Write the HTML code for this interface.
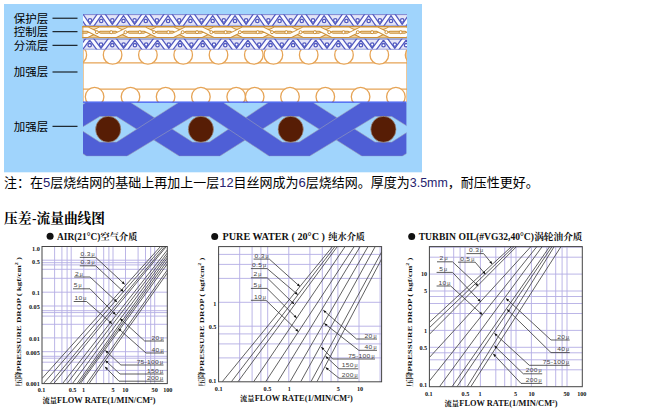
<!DOCTYPE html>
<html><head><meta charset="utf-8"><title>chart</title>
<style>html,body{margin:0;padding:0;background:#fff}svg{display:block}text{font-family:"Liberation Serif","Noto Serif CJK SC",serif}text.sa{font-family:"Liberation Sans","Noto Sans CJK SC",sans-serif}</style>
</head><body>
<svg width="664" height="415" viewBox="0 0 664 415">
<rect width="664" height="415" fill="#fff"/>
<rect x="4" y="4" width="418" height="168.3" fill="#a0d4fc"/>
<clipPath id="dc"><rect x="83" y="10" width="324" height="150"/></clipPath>
<clipPath id="dc2"><rect x="82.3" y="10" width="324.7" height="150"/></clipPath>
<g clip-path="url(#dc)">
<rect x="83" y="49.6" width="324" height="52.8" fill="#fff"/>
<path d="M83 62.8H407M83 89.2H407" stroke="#e6a456" stroke-width="1.2" fill="none"/>
<circle cx="77.3" cy="54.9" r="9.3" fill="#fff" stroke="#e6a456" stroke-width="1.3"/>
<circle cx="112.6" cy="54.9" r="9.3" fill="#fff" stroke="#e6a456" stroke-width="1.3"/>
<circle cx="147.9" cy="54.9" r="9.3" fill="#fff" stroke="#e6a456" stroke-width="1.3"/>
<circle cx="183.2" cy="54.9" r="9.3" fill="#fff" stroke="#e6a456" stroke-width="1.3"/>
<circle cx="218.5" cy="54.9" r="9.3" fill="#fff" stroke="#e6a456" stroke-width="1.3"/>
<circle cx="253.8" cy="54.9" r="9.3" fill="#fff" stroke="#e6a456" stroke-width="1.3"/>
<circle cx="273.4" cy="54.9" r="9.3" fill="#fff" stroke="#e6a456" stroke-width="1.3"/>
<circle cx="308.7" cy="54.9" r="9.3" fill="#fff" stroke="#e6a456" stroke-width="1.3"/>
<circle cx="344" cy="54.9" r="9.3" fill="#fff" stroke="#e6a456" stroke-width="1.3"/>
<circle cx="379.3" cy="54.9" r="9.3" fill="#fff" stroke="#e6a456" stroke-width="1.3"/>
<circle cx="414.6" cy="54.9" r="9.3" fill="#fff" stroke="#e6a456" stroke-width="1.3"/>
<circle cx="94.6" cy="96.7" r="9.3" fill="#fff" stroke="#e6a456" stroke-width="1.3"/>
<circle cx="130.5" cy="96.7" r="9.3" fill="#fff" stroke="#e6a456" stroke-width="1.3"/>
<circle cx="165.6" cy="96.7" r="9.3" fill="#fff" stroke="#e6a456" stroke-width="1.3"/>
<circle cx="200.9" cy="96.7" r="9.3" fill="#fff" stroke="#e6a456" stroke-width="1.3"/>
<circle cx="236.2" cy="96.7" r="9.3" fill="#fff" stroke="#e6a456" stroke-width="1.3"/>
<circle cx="254.7" cy="96.7" r="9.3" fill="#fff" stroke="#e6a456" stroke-width="1.3"/>
<circle cx="290" cy="96.7" r="9.3" fill="#fff" stroke="#e6a456" stroke-width="1.3"/>
<circle cx="325.3" cy="96.7" r="9.3" fill="#fff" stroke="#e6a456" stroke-width="1.3"/>
<circle cx="360.6" cy="96.7" r="9.3" fill="#fff" stroke="#e6a456" stroke-width="1.3"/>
<circle cx="395.9" cy="96.7" r="9.3" fill="#fff" stroke="#e6a456" stroke-width="1.3"/>
<path d="M83.5 49.6V102" stroke="#e6a456" stroke-width="1" opacity="0.6"/>
<path d="M406.5 49.6V102" stroke="#e6a456" stroke-width="1" opacity="0.6"/>
<rect x="83" y="14.2" width="324" height="11.6" fill="#e4e5f7"/>
<clipPath id="bb0"><rect x="83" y="14.2" width="324" height="11.6"/></clipPath>
<g clip-path="url(#bb0)">
<path d="M67.7 28L78.9 12L90 28L101.2 12L112.3 28L123.5 12L134.6 28L145.8 12L156.9 28L168.1 12L179.2 28L190.4 12L201.5 28L212.7 12L223.8 28L235 12L246.1 28L257.3 12L268.4 28L279.6 12L290.7 28L301.8 12L313 28L324.1 12L335.3 28L346.4 12L357.6 28L368.7 12L379.9 28L391 12L402.2 28L413.3 12L424.5 28" fill="none" stroke="#525ac0" stroke-width="5.4" stroke-linejoin="miter"/>
<path d="M67.7 28L78.9 12L90 28L101.2 12L112.3 28L123.5 12L134.6 28L145.8 12L156.9 28L168.1 12L179.2 28L190.4 12L201.5 28L212.7 12L223.8 28L235 12L246.1 28L257.3 12L268.4 28L279.6 12L290.7 28L301.8 12L313 28L324.1 12L335.3 28L346.4 12L357.6 28L368.7 12L379.9 28L391 12L402.2 28L413.3 12L424.5 28" fill="none" stroke="#fbfbff" stroke-width="2.9" stroke-linejoin="miter"/>
<circle cx="90" cy="20.4" r="1.7" fill="#fff" stroke="#525ac0" stroke-width="1.3"/>
<circle cx="101.2" cy="21" r="1.7" fill="#fff" stroke="#525ac0" stroke-width="1.3"/>
<circle cx="112.3" cy="20.4" r="1.7" fill="#fff" stroke="#525ac0" stroke-width="1.3"/>
<circle cx="123.5" cy="21" r="1.7" fill="#fff" stroke="#525ac0" stroke-width="1.3"/>
<circle cx="134.6" cy="20.4" r="1.7" fill="#fff" stroke="#525ac0" stroke-width="1.3"/>
<circle cx="145.8" cy="21" r="1.7" fill="#fff" stroke="#525ac0" stroke-width="1.3"/>
<circle cx="156.9" cy="20.4" r="1.7" fill="#fff" stroke="#525ac0" stroke-width="1.3"/>
<circle cx="168.1" cy="21" r="1.7" fill="#fff" stroke="#525ac0" stroke-width="1.3"/>
<circle cx="179.2" cy="20.4" r="1.7" fill="#fff" stroke="#525ac0" stroke-width="1.3"/>
<circle cx="190.4" cy="21" r="1.7" fill="#fff" stroke="#525ac0" stroke-width="1.3"/>
<circle cx="201.5" cy="20.4" r="1.7" fill="#fff" stroke="#525ac0" stroke-width="1.3"/>
<circle cx="212.7" cy="21" r="1.7" fill="#fff" stroke="#525ac0" stroke-width="1.3"/>
<circle cx="223.8" cy="20.4" r="1.7" fill="#fff" stroke="#525ac0" stroke-width="1.3"/>
<circle cx="235" cy="21" r="1.7" fill="#fff" stroke="#525ac0" stroke-width="1.3"/>
<circle cx="246.1" cy="20.4" r="1.7" fill="#fff" stroke="#525ac0" stroke-width="1.3"/>
<circle cx="257.3" cy="21" r="1.7" fill="#fff" stroke="#525ac0" stroke-width="1.3"/>
<circle cx="268.4" cy="20.4" r="1.7" fill="#fff" stroke="#525ac0" stroke-width="1.3"/>
<circle cx="279.6" cy="21" r="1.7" fill="#fff" stroke="#525ac0" stroke-width="1.3"/>
<circle cx="290.7" cy="20.4" r="1.7" fill="#fff" stroke="#525ac0" stroke-width="1.3"/>
<circle cx="301.8" cy="21" r="1.7" fill="#fff" stroke="#525ac0" stroke-width="1.3"/>
<circle cx="313" cy="20.4" r="1.7" fill="#fff" stroke="#525ac0" stroke-width="1.3"/>
<circle cx="324.1" cy="21" r="1.7" fill="#fff" stroke="#525ac0" stroke-width="1.3"/>
<circle cx="335.3" cy="20.4" r="1.7" fill="#fff" stroke="#525ac0" stroke-width="1.3"/>
<circle cx="346.4" cy="21" r="1.7" fill="#fff" stroke="#525ac0" stroke-width="1.3"/>
<circle cx="357.6" cy="20.4" r="1.7" fill="#fff" stroke="#525ac0" stroke-width="1.3"/>
<circle cx="368.7" cy="21" r="1.7" fill="#fff" stroke="#525ac0" stroke-width="1.3"/>
<circle cx="379.9" cy="20.4" r="1.7" fill="#fff" stroke="#525ac0" stroke-width="1.3"/>
<circle cx="391" cy="21" r="1.7" fill="#fff" stroke="#525ac0" stroke-width="1.3"/>
<circle cx="402.2" cy="20.4" r="1.7" fill="#fff" stroke="#525ac0" stroke-width="1.3"/>
<circle cx="413.3" cy="21" r="1.7" fill="#fff" stroke="#525ac0" stroke-width="1.3"/>
</g>
<path d="M83 14.6H407" stroke="#525ac0" stroke-width="0.9" opacity="0.75"/>
<path d="M83 25.4H407" stroke="#525ac0" stroke-width="0.9" opacity="0.45"/>
</g><g clip-path="url(#dc2)">
<clipPath id="ob1"><rect x="82.3" y="26" width="169.7" height="12.4"/></clipPath><g clip-path="url(#ob1)">
<rect x="82.3" y="26" width="324.7" height="12.4" fill="#efd3a4"/>
<path d="M42.8 29.1L58.8 29.1L71.4 35.3L87.4 35.3L100 29.1L100 29.1L116 29.1L128.6 35.3L144.6 35.3L157.2 29.1L157.2 29.1L173.2 29.1L185.8 35.3L201.8 35.3L214.4 29.1L214.4 29.1L230.4 29.1L243 35.3L259 35.3L271.6 29.1L271.6 29.1L287.6 29.1L300.2 35.3L316.2 35.3L328.8 29.1L328.8 29.1L344.8 29.1L357.4 35.3L373.4 35.3L386 29.1L386 29.1L402 29.1L414.6 35.3L430.6 35.3L443.2 29.1L443.2 29.1L459.2 29.1L471.8 35.3L487.8 35.3L500.4 29.1" fill="none" stroke="#cc9038" stroke-width="5.2" stroke-linejoin="round"/>
<path d="M42.8 29.1L58.8 29.1L71.4 35.3L87.4 35.3L100 29.1L100 29.1L116 29.1L128.6 35.3L144.6 35.3L157.2 29.1L157.2 29.1L173.2 29.1L185.8 35.3L201.8 35.3L214.4 29.1L214.4 29.1L230.4 29.1L243 35.3L259 35.3L271.6 29.1L271.6 29.1L287.6 29.1L300.2 35.3L316.2 35.3L328.8 29.1L328.8 29.1L344.8 29.1L357.4 35.3L373.4 35.3L386 29.1L386 29.1L402 29.1L414.6 35.3L430.6 35.3L443.2 29.1L443.2 29.1L459.2 29.1L471.8 35.3L487.8 35.3L500.4 29.1" fill="none" stroke="#fffdf8" stroke-width="3.3" stroke-linejoin="round"/>
<path d="M71.4 29.1L87.4 29.1L100 35.3L116 35.3L128.6 29.1L128.6 29.1L144.6 29.1L157.2 35.3L173.2 35.3L185.8 29.1L185.8 29.1L201.8 29.1L214.4 35.3L230.4 35.3L243 29.1L243 29.1L259 29.1L271.6 35.3L287.6 35.3L300.2 29.1L300.2 29.1L316.2 29.1L328.8 35.3L344.8 35.3L357.4 29.1L357.4 29.1L373.4 29.1L386 35.3L402 35.3L414.6 29.1L414.6 29.1L430.6 29.1L443.2 35.3L459.2 35.3L471.8 29.1" fill="none" stroke="#cc9038" stroke-width="5.2" stroke-linejoin="round"/>
<path d="M71.4 29.1L87.4 29.1L100 35.3L116 35.3L128.6 29.1L128.6 29.1L144.6 29.1L157.2 35.3L173.2 35.3L185.8 29.1L185.8 29.1L201.8 29.1L214.4 35.3L230.4 35.3L243 29.1L243 29.1L259 29.1L271.6 35.3L287.6 35.3L300.2 29.1L300.2 29.1L316.2 29.1L328.8 35.3L344.8 35.3L357.4 29.1L357.4 29.1L373.4 29.1L386 35.3L402 35.3L414.6 29.1L414.6 29.1L430.6 29.1L443.2 35.3L459.2 35.3L471.8 29.1" fill="none" stroke="#fffdf8" stroke-width="3.3" stroke-linejoin="round"/>
<circle cx="96.9" cy="32.2" r="1.5" fill="#fff" stroke="#cc9038" stroke-width="1"/>
<circle cx="111.2" cy="32.2" r="1.5" fill="#fff" stroke="#cc9038" stroke-width="1"/>
<circle cx="125.5" cy="32.2" r="1.5" fill="#fff" stroke="#cc9038" stroke-width="1"/>
<circle cx="139.8" cy="32.2" r="1.5" fill="#fff" stroke="#cc9038" stroke-width="1"/>
<circle cx="154.1" cy="32.2" r="1.5" fill="#fff" stroke="#cc9038" stroke-width="1"/>
<circle cx="168.4" cy="32.2" r="1.5" fill="#fff" stroke="#cc9038" stroke-width="1"/>
<circle cx="182.7" cy="32.2" r="1.5" fill="#fff" stroke="#cc9038" stroke-width="1"/>
<circle cx="197" cy="32.2" r="1.5" fill="#fff" stroke="#cc9038" stroke-width="1"/>
<circle cx="211.3" cy="32.2" r="1.5" fill="#fff" stroke="#cc9038" stroke-width="1"/>
<circle cx="225.6" cy="32.2" r="1.5" fill="#fff" stroke="#cc9038" stroke-width="1"/>
<circle cx="239.9" cy="32.2" r="1.5" fill="#fff" stroke="#cc9038" stroke-width="1"/>
<circle cx="254.2" cy="32.2" r="1.5" fill="#fff" stroke="#cc9038" stroke-width="1"/>
<circle cx="268.5" cy="32.2" r="1.5" fill="#fff" stroke="#cc9038" stroke-width="1"/>
<circle cx="282.8" cy="32.2" r="1.5" fill="#fff" stroke="#cc9038" stroke-width="1"/>
<circle cx="297.1" cy="32.2" r="1.5" fill="#fff" stroke="#cc9038" stroke-width="1"/>
<circle cx="311.4" cy="32.2" r="1.5" fill="#fff" stroke="#cc9038" stroke-width="1"/>
<circle cx="325.7" cy="32.2" r="1.5" fill="#fff" stroke="#cc9038" stroke-width="1"/>
<circle cx="340" cy="32.2" r="1.5" fill="#fff" stroke="#cc9038" stroke-width="1"/>
<circle cx="354.3" cy="32.2" r="1.5" fill="#fff" stroke="#cc9038" stroke-width="1"/>
<circle cx="368.6" cy="32.2" r="1.5" fill="#fff" stroke="#cc9038" stroke-width="1"/>
<circle cx="382.9" cy="32.2" r="1.5" fill="#fff" stroke="#cc9038" stroke-width="1"/>
<circle cx="397.2" cy="32.2" r="1.5" fill="#fff" stroke="#cc9038" stroke-width="1"/>
<circle cx="411.5" cy="32.2" r="1.5" fill="#fff" stroke="#cc9038" stroke-width="1"/>
<path d="M82.3 26.5H407M82.3 37.9H407" stroke="#cc9038" stroke-width="1"/>
<path d="M82.8 26V38.4" stroke="#cc9038" stroke-width="1"/>
</g>
<clipPath id="ob2"><rect x="252" y="26" width="155" height="12.4"/></clipPath><g clip-path="url(#ob2)">
<rect x="82.3" y="26" width="324.7" height="12.4" fill="#efd3a4"/>
<path d="M46.3 29.1L62.3 29.1L74.9 35.3L90.9 35.3L103.5 29.1L103.5 29.1L119.5 29.1L132.1 35.3L148.1 35.3L160.7 29.1L160.7 29.1L176.7 29.1L189.3 35.3L205.3 35.3L217.9 29.1L217.9 29.1L233.9 29.1L246.5 35.3L262.5 35.3L275.1 29.1L275.1 29.1L291.1 29.1L303.7 35.3L319.7 35.3L332.3 29.1L332.3 29.1L348.3 29.1L360.9 35.3L376.9 35.3L389.5 29.1L389.5 29.1L405.5 29.1L418.1 35.3L434.1 35.3L446.7 29.1L446.7 29.1L462.7 29.1L475.3 35.3L491.3 35.3L503.9 29.1" fill="none" stroke="#cc9038" stroke-width="5.2" stroke-linejoin="round"/>
<path d="M46.3 29.1L62.3 29.1L74.9 35.3L90.9 35.3L103.5 29.1L103.5 29.1L119.5 29.1L132.1 35.3L148.1 35.3L160.7 29.1L160.7 29.1L176.7 29.1L189.3 35.3L205.3 35.3L217.9 29.1L217.9 29.1L233.9 29.1L246.5 35.3L262.5 35.3L275.1 29.1L275.1 29.1L291.1 29.1L303.7 35.3L319.7 35.3L332.3 29.1L332.3 29.1L348.3 29.1L360.9 35.3L376.9 35.3L389.5 29.1L389.5 29.1L405.5 29.1L418.1 35.3L434.1 35.3L446.7 29.1L446.7 29.1L462.7 29.1L475.3 35.3L491.3 35.3L503.9 29.1" fill="none" stroke="#fffdf8" stroke-width="3.3" stroke-linejoin="round"/>
<path d="M74.9 29.1L90.9 29.1L103.5 35.3L119.5 35.3L132.1 29.1L132.1 29.1L148.1 29.1L160.7 35.3L176.7 35.3L189.3 29.1L189.3 29.1L205.3 29.1L217.9 35.3L233.9 35.3L246.5 29.1L246.5 29.1L262.5 29.1L275.1 35.3L291.1 35.3L303.7 29.1L303.7 29.1L319.7 29.1L332.3 35.3L348.3 35.3L360.9 29.1L360.9 29.1L376.9 29.1L389.5 35.3L405.5 35.3L418.1 29.1L418.1 29.1L434.1 29.1L446.7 35.3L462.7 35.3L475.3 29.1" fill="none" stroke="#cc9038" stroke-width="5.2" stroke-linejoin="round"/>
<path d="M74.9 29.1L90.9 29.1L103.5 35.3L119.5 35.3L132.1 29.1L132.1 29.1L148.1 29.1L160.7 35.3L176.7 35.3L189.3 29.1L189.3 29.1L205.3 29.1L217.9 35.3L233.9 35.3L246.5 29.1L246.5 29.1L262.5 29.1L275.1 35.3L291.1 35.3L303.7 29.1L303.7 29.1L319.7 29.1L332.3 35.3L348.3 35.3L360.9 29.1L360.9 29.1L376.9 29.1L389.5 35.3L405.5 35.3L418.1 29.1L418.1 29.1L434.1 29.1L446.7 35.3L462.7 35.3L475.3 29.1" fill="none" stroke="#fffdf8" stroke-width="3.3" stroke-linejoin="round"/>
<circle cx="100.4" cy="32.2" r="1.5" fill="#fff" stroke="#cc9038" stroke-width="1"/>
<circle cx="114.7" cy="32.2" r="1.5" fill="#fff" stroke="#cc9038" stroke-width="1"/>
<circle cx="129" cy="32.2" r="1.5" fill="#fff" stroke="#cc9038" stroke-width="1"/>
<circle cx="143.3" cy="32.2" r="1.5" fill="#fff" stroke="#cc9038" stroke-width="1"/>
<circle cx="157.6" cy="32.2" r="1.5" fill="#fff" stroke="#cc9038" stroke-width="1"/>
<circle cx="171.9" cy="32.2" r="1.5" fill="#fff" stroke="#cc9038" stroke-width="1"/>
<circle cx="186.2" cy="32.2" r="1.5" fill="#fff" stroke="#cc9038" stroke-width="1"/>
<circle cx="200.5" cy="32.2" r="1.5" fill="#fff" stroke="#cc9038" stroke-width="1"/>
<circle cx="214.8" cy="32.2" r="1.5" fill="#fff" stroke="#cc9038" stroke-width="1"/>
<circle cx="229.1" cy="32.2" r="1.5" fill="#fff" stroke="#cc9038" stroke-width="1"/>
<circle cx="243.4" cy="32.2" r="1.5" fill="#fff" stroke="#cc9038" stroke-width="1"/>
<circle cx="257.7" cy="32.2" r="1.5" fill="#fff" stroke="#cc9038" stroke-width="1"/>
<circle cx="272" cy="32.2" r="1.5" fill="#fff" stroke="#cc9038" stroke-width="1"/>
<circle cx="286.3" cy="32.2" r="1.5" fill="#fff" stroke="#cc9038" stroke-width="1"/>
<circle cx="300.6" cy="32.2" r="1.5" fill="#fff" stroke="#cc9038" stroke-width="1"/>
<circle cx="314.9" cy="32.2" r="1.5" fill="#fff" stroke="#cc9038" stroke-width="1"/>
<circle cx="329.2" cy="32.2" r="1.5" fill="#fff" stroke="#cc9038" stroke-width="1"/>
<circle cx="343.5" cy="32.2" r="1.5" fill="#fff" stroke="#cc9038" stroke-width="1"/>
<circle cx="357.8" cy="32.2" r="1.5" fill="#fff" stroke="#cc9038" stroke-width="1"/>
<circle cx="372.1" cy="32.2" r="1.5" fill="#fff" stroke="#cc9038" stroke-width="1"/>
<circle cx="386.4" cy="32.2" r="1.5" fill="#fff" stroke="#cc9038" stroke-width="1"/>
<circle cx="400.7" cy="32.2" r="1.5" fill="#fff" stroke="#cc9038" stroke-width="1"/>
<path d="M82.3 26.5H407M82.3 37.9H407" stroke="#cc9038" stroke-width="1"/>
<path d="M82.8 26V38.4" stroke="#cc9038" stroke-width="1"/>
</g>
</g><g clip-path="url(#dc)">
<rect x="83" y="38.8" width="324" height="10.8" fill="#e4e5f7"/>
<clipPath id="bb1"><rect x="83" y="38.8" width="324" height="10.8"/></clipPath>
<g clip-path="url(#bb1)">
<path d="M67.1 36.6L78.4 51.8L89.7 36.6L101 51.8L112.3 36.6L123.6 51.8L134.9 36.6L146.2 51.8L157.5 36.6L168.8 51.8L180.1 36.6L191.4 51.8L202.7 36.6L214 51.8L225.3 36.6L236.6 51.8L247.9 36.6L259.2 51.8L270.5 36.6L281.8 51.8L293.1 36.6L304.4 51.8L315.7 36.6L327 51.8L338.3 36.6L349.6 51.8L360.9 36.6L372.2 51.8L383.5 36.6L394.8 51.8L406.1 36.6L417.4 51.8L428.7 36.6" fill="none" stroke="#525ac0" stroke-width="5.4" stroke-linejoin="miter"/>
<path d="M67.1 36.6L78.4 51.8L89.7 36.6L101 51.8L112.3 36.6L123.6 51.8L134.9 36.6L146.2 51.8L157.5 36.6L168.8 51.8L180.1 36.6L191.4 51.8L202.7 36.6L214 51.8L225.3 36.6L236.6 51.8L247.9 36.6L259.2 51.8L270.5 36.6L281.8 51.8L293.1 36.6L304.4 51.8L315.7 36.6L327 51.8L338.3 36.6L349.6 51.8L360.9 36.6L372.2 51.8L383.5 36.6L394.8 51.8L406.1 36.6L417.4 51.8L428.7 36.6" fill="none" stroke="#fbfbff" stroke-width="2.9" stroke-linejoin="miter"/>
<circle cx="89.7" cy="45.2" r="1.7" fill="#fff" stroke="#525ac0" stroke-width="1.3"/>
<circle cx="101" cy="44.6" r="1.7" fill="#fff" stroke="#525ac0" stroke-width="1.3"/>
<circle cx="112.3" cy="45.2" r="1.7" fill="#fff" stroke="#525ac0" stroke-width="1.3"/>
<circle cx="123.6" cy="44.6" r="1.7" fill="#fff" stroke="#525ac0" stroke-width="1.3"/>
<circle cx="134.9" cy="45.2" r="1.7" fill="#fff" stroke="#525ac0" stroke-width="1.3"/>
<circle cx="146.2" cy="44.6" r="1.7" fill="#fff" stroke="#525ac0" stroke-width="1.3"/>
<circle cx="157.5" cy="45.2" r="1.7" fill="#fff" stroke="#525ac0" stroke-width="1.3"/>
<circle cx="168.8" cy="44.6" r="1.7" fill="#fff" stroke="#525ac0" stroke-width="1.3"/>
<circle cx="180.1" cy="45.2" r="1.7" fill="#fff" stroke="#525ac0" stroke-width="1.3"/>
<circle cx="191.4" cy="44.6" r="1.7" fill="#fff" stroke="#525ac0" stroke-width="1.3"/>
<circle cx="202.7" cy="45.2" r="1.7" fill="#fff" stroke="#525ac0" stroke-width="1.3"/>
<circle cx="214" cy="44.6" r="1.7" fill="#fff" stroke="#525ac0" stroke-width="1.3"/>
<circle cx="225.3" cy="45.2" r="1.7" fill="#fff" stroke="#525ac0" stroke-width="1.3"/>
<circle cx="236.6" cy="44.6" r="1.7" fill="#fff" stroke="#525ac0" stroke-width="1.3"/>
<circle cx="247.9" cy="45.2" r="1.7" fill="#fff" stroke="#525ac0" stroke-width="1.3"/>
<circle cx="259.2" cy="44.6" r="1.7" fill="#fff" stroke="#525ac0" stroke-width="1.3"/>
<circle cx="270.5" cy="45.2" r="1.7" fill="#fff" stroke="#525ac0" stroke-width="1.3"/>
<circle cx="281.8" cy="44.6" r="1.7" fill="#fff" stroke="#525ac0" stroke-width="1.3"/>
<circle cx="293.1" cy="45.2" r="1.7" fill="#fff" stroke="#525ac0" stroke-width="1.3"/>
<circle cx="304.4" cy="44.6" r="1.7" fill="#fff" stroke="#525ac0" stroke-width="1.3"/>
<circle cx="315.7" cy="45.2" r="1.7" fill="#fff" stroke="#525ac0" stroke-width="1.3"/>
<circle cx="327" cy="44.6" r="1.7" fill="#fff" stroke="#525ac0" stroke-width="1.3"/>
<circle cx="338.3" cy="45.2" r="1.7" fill="#fff" stroke="#525ac0" stroke-width="1.3"/>
<circle cx="349.6" cy="44.6" r="1.7" fill="#fff" stroke="#525ac0" stroke-width="1.3"/>
<circle cx="360.9" cy="45.2" r="1.7" fill="#fff" stroke="#525ac0" stroke-width="1.3"/>
<circle cx="372.2" cy="44.6" r="1.7" fill="#fff" stroke="#525ac0" stroke-width="1.3"/>
<circle cx="383.5" cy="45.2" r="1.7" fill="#fff" stroke="#525ac0" stroke-width="1.3"/>
<circle cx="394.8" cy="44.6" r="1.7" fill="#fff" stroke="#525ac0" stroke-width="1.3"/>
<circle cx="406.1" cy="45.2" r="1.7" fill="#fff" stroke="#525ac0" stroke-width="1.3"/>
<circle cx="417.4" cy="44.6" r="1.7" fill="#fff" stroke="#525ac0" stroke-width="1.3"/>
</g>
<path d="M83 39.2H407" stroke="#525ac0" stroke-width="0.9" opacity="0.75"/>
<path d="M83 49.2H407" stroke="#525ac0" stroke-width="0.9" opacity="0.45"/>
<rect x="83" y="102.4" width="324" height="57.79999999999998" fill="#a0d4fc"/>
<clipPath id="t1"><rect x="83" y="102.4" width="323.4" height="53.79999999999998"/></clipPath>
<g clip-path="url(#t1)">
<path d="M-99.5 102.4L-54.9 102.4L7.1 142.1L23.9 142.1L85.9 102.4L130.5 102.4L192.5 142.1L209.3 142.1L268.4 102.4L313 102.4L375 142.1L391.8 142.1L453.8 102.4L498.4 102.4L560.4 142.1L577.2 142.1L587.5 156.2L547.4 156.2L484.5 116.5L467.7 116.5L402.1 156.2L362 156.2L299.1 116.5L282.3 116.5L219.6 156.2L179.5 156.2L116.6 116.5L99.8 116.5L34.2 156.2L-5.9 156.2L-68.8 116.5L-85.6 116.5Z" fill="#4f5fd6" stroke="#9aa0b8" stroke-width="0.6"/>
<path d="M-85.6 142.1L-68.8 142.1L-6.8 102.4L37.8 102.4L99.8 142.1L116.6 142.1L178.6 102.4L223.2 102.4L282.3 142.1L299.1 142.1L361.1 102.4L405.7 102.4L467.7 142.1L484.5 142.1L546.5 102.4L591.1 102.4L577.2 116.5L560.4 116.5L494.8 156.2L454.7 156.2L391.8 116.5L375 116.5L309.4 156.2L269.3 156.2L209.3 116.5L192.5 116.5L126.9 156.2L86.8 156.2L23.9 116.5L7.1 116.5L-58.5 156.2L-98.6 156.2Z" fill="#4f5fd6" stroke="#9aa0b8" stroke-width="0.6"/>
</g>
<ellipse cx="108.2" cy="129.3" rx="12.6" ry="13" fill="#571d05" stroke="#a09088" stroke-width="0.7"/>
<ellipse cx="200.9" cy="129.3" rx="12.6" ry="13" fill="#571d05" stroke="#a09088" stroke-width="0.7"/>
<ellipse cx="290.7" cy="129.3" rx="12.6" ry="13" fill="#571d05" stroke="#a09088" stroke-width="0.7"/>
<ellipse cx="383.4" cy="129.3" rx="12.6" ry="13" fill="#571d05" stroke="#a09088" stroke-width="0.7"/>
<path d="M83 102.2H406.4" stroke="#3a55f0" stroke-width="1.2"/>
</g>
<rect x="52.5" y="17.7" width="25" height="1" fill="#000"/>
<rect x="52.5" y="31.2" width="25" height="1" fill="#000"/>
<rect x="52.5" y="44.8" width="25" height="1" fill="#000"/>
<rect x="52.5" y="71.5" width="25" height="1" fill="#000"/>
<rect x="52.5" y="125.8" width="25" height="1" fill="#000"/>
<text x="13.8" y="22.6" class="sa" font-size="11.5" fill="#000" textLength="34.5" lengthAdjust="spacingAndGlyphs">保护层</text>
<text x="13.8" y="36.1" class="sa" font-size="11.5" fill="#000" textLength="34.5" lengthAdjust="spacingAndGlyphs">控制层</text>
<text x="13.8" y="49.7" class="sa" font-size="11.5" fill="#000" textLength="34.5" lengthAdjust="spacingAndGlyphs">分流层</text>
<text x="13.8" y="76.4" class="sa" font-size="11.5" fill="#000" textLength="34.5" lengthAdjust="spacingAndGlyphs">加强层</text>
<text x="13.8" y="130.7" class="sa" font-size="11.5" fill="#000" textLength="34.5" lengthAdjust="spacingAndGlyphs">加强层</text>
<text x="43" y="186.8" class="sa" font-size="13" fill="#26226e" textLength="7.3" lengthAdjust="spacingAndGlyphs">5</text>
<text x="219.3" y="186.8" class="sa" font-size="13" fill="#26226e" textLength="14.2" lengthAdjust="spacingAndGlyphs">12</text>
<text x="298.5" y="186.8" class="sa" font-size="13" fill="#26226e" textLength="7.3" lengthAdjust="spacingAndGlyphs">6</text>
<text x="409.8" y="186.8" class="sa" font-size="13" fill="#26226e" textLength="38" lengthAdjust="spacingAndGlyphs">3.5mm</text>
<text x="4" y="186.8" class="sa" font-size="13" fill="#000" textLength="39" lengthAdjust="spacingAndGlyphs">注：在</text>
<text x="50.3" y="186.8" class="sa" font-size="13" fill="#000" textLength="169" lengthAdjust="spacingAndGlyphs">层烧结网的基础上再加上一层</text>
<text x="233.5" y="186.8" class="sa" font-size="13" fill="#000" textLength="65" lengthAdjust="spacingAndGlyphs">目丝网成为</text>
<text x="305.8" y="186.8" class="sa" font-size="13" fill="#000" textLength="104" lengthAdjust="spacingAndGlyphs">层烧结网。厚度为</text>
<text x="447.8" y="186.8" class="sa" font-size="13" fill="#000" textLength="91" lengthAdjust="spacingAndGlyphs">，耐压性更好。</text>
<text y="223" font-size="13.5" font-weight="bold" fill="#000"><tspan x="4" textLength="27.4" lengthAdjust="spacingAndGlyphs">压差</tspan><tspan x="31.9">-</tspan><tspan x="36.5" textLength="68.5" lengthAdjust="spacingAndGlyphs">流量曲线图</tspan></text>
<path d="M54.6 246.5V383.6M61.9 246.5V383.6M67.1 246.5V383.6M71.2 246.5V383.6M83.8 246.5V383.6M96.3 246.5V383.6M103.7 246.5V383.6M108.9 246.5V383.6M113 246.5V383.6M125.5 246.5V383.6M138.1 246.5V383.6M145.5 246.5V383.6M150.7 246.5V383.6M154.7 246.5V383.6M42 260.2H167.3M42 262.7H167.3M42 264.9H167.3M42 269.3H167.3M42 278.3H167.3M42 292.2H167.3M42 306H167.3M42 310.7H167.3M42 312.6H167.3M42 316.1H167.3M42 324.3H167.3M42 337.9H167.3M42 351.7H167.3M42 356.3H167.3M42 358.2H167.3M42 362.2H167.3M42 370.4H167.3" stroke="#b4aee4" stroke-width="0.9" fill="none"/>
<clipPath id="cp1"><rect x="42" y="246.5" width="125.3" height="137.1"/></clipPath>
<path d="M42 378.5L160.5 246.5M43.4 383.6L162.9 246.5M50 383.6L165 246.5M53.7 383.6L166.4 246.5M62.5 383.6L167.3 250M67 383.6L167.3 253M72.4 383.6L167.3 255.5M77 383.6L167.3 258M78.8 383.6L167.3 261M80.3 383.6L167.3 264M86.7 383.6L167.3 270M89 383.6L167.3 273" stroke="#333" stroke-width="0.78" fill="none" clip-path="url(#cp1)"/>
<rect x="42" y="246.5" width="125.3" height="137.1" fill="none" stroke="#444" stroke-width="1"/>
<text class="sa" transform="translate(80.6 256) scale(1.17 1)" font-size="5.7" fill="#444" letter-spacing="0.25">0.3<tspan font-size="4.6" dx="0.7">μ</tspan></text>
<text class="sa" transform="translate(80.6 264.4) scale(1.17 1)" font-size="5.7" fill="#444" letter-spacing="0.25">0.3<tspan font-size="4.6" dx="0.7">μ</tspan></text>
<text class="sa" transform="translate(75 275.6) scale(1.17 1)" font-size="5.7" fill="#444" letter-spacing="0.25">2<tspan font-size="4.6" dx="0.7">μ</tspan></text>
<text class="sa" transform="translate(73.8 287.4) scale(1.17 1)" font-size="5.7" fill="#444" letter-spacing="0.25">5<tspan font-size="4.6" dx="0.7">μ</tspan></text>
<text class="sa" transform="translate(74.5 300.1) scale(1.17 1)" font-size="5.7" fill="#444" letter-spacing="0.25">10<tspan font-size="4.6" dx="0.7">μ</tspan></text>
<text class="sa" transform="translate(163.8 339.6) scale(1.17 1)" font-size="5.7" fill="#444" text-anchor="end" letter-spacing="0.25">20<tspan font-size="4.6" dx="0.7">μ</tspan></text>
<text class="sa" transform="translate(163.8 351.6) scale(1.17 1)" font-size="5.7" fill="#444" text-anchor="end" letter-spacing="0.25">40<tspan font-size="4.6" dx="0.7">μ</tspan></text>
<text class="sa" transform="translate(163.3 363.6) scale(1.17 1)" font-size="5.7" fill="#444" text-anchor="end" letter-spacing="0.25">75-100<tspan font-size="4.6" dx="0.7">μ</tspan></text>
<text class="sa" transform="translate(163.3 372.6) scale(1.17 1)" font-size="5.7" fill="#444" text-anchor="end" letter-spacing="0.25">150<tspan font-size="4.6" dx="0.7">μ</tspan></text>
<text class="sa" transform="translate(163.3 379.8) scale(1.17 1)" font-size="5.7" fill="#444" text-anchor="end" letter-spacing="0.25">200<tspan font-size="4.6" dx="0.7">μ</tspan></text>
<path d="M79.8 257.4H95.7L124.7 284.3M79.8 265.8H95.7L123.6 291.8M74.2 277H90L117 302M73 288.8H90L115.7 314.8M73.7 301.5H86.5L112 323.8M164 341H144.7L120 318.4M164 353H146L118.3 328.5M163.5 365H120.9L105.4 350.4M163.5 374H120L105.4 360.5M163.5 381.2H119L105 366.8" stroke="#333" stroke-width="0.8" fill="none"/>
<path d="M124.7 284.3L121.6 283.2L123.4 281.3ZM123.6 291.8L120.5 290.7L122.3 288.8ZM117 302L113.9 300.9L115.7 299ZM115.7 314.8L112.7 313.6L114.5 311.8ZM112 323.8L108.9 322.8L110.6 320.8ZM120 318.4L123.1 319.5L121.3 321.4ZM118.3 328.5L121.4 329.5L119.7 331.5ZM105.4 350.4L108.5 351.5L106.7 353.4ZM105.4 360.5L108.5 361.6L106.7 363.5ZM105 366.8L108 368L106.2 369.9Z" fill="#111"/>
<text x="39.8" y="251" font-size="6.2" font-weight="bold" text-anchor="end" fill="#111">1.0</text>
<text x="39.8" y="264.1" font-size="6.2" font-weight="bold" text-anchor="end" fill="#111">0.5</text>
<text x="39.8" y="295.2" font-size="6.2" font-weight="bold" text-anchor="end" fill="#111">0.1</text>
<text x="39.8" y="309" font-size="6.2" font-weight="bold" text-anchor="end" fill="#111">0.05</text>
<text x="39.8" y="340.9" font-size="6.2" font-weight="bold" text-anchor="end" fill="#111">0.01</text>
<text x="39.8" y="354.7" font-size="6.2" font-weight="bold" text-anchor="end" fill="#111">0.005</text>
<text x="39.8" y="385.6" font-size="6.2" font-weight="bold" text-anchor="end" fill="#111">0.001</text>
<text x="41.5" y="391.6" font-size="6.2" font-weight="bold" text-anchor="middle" fill="#111">0.1</text>
<text x="72.5" y="391.6" font-size="6.2" font-weight="bold" text-anchor="middle" fill="#111">0.5</text>
<text x="83.6" y="391.6" font-size="6.2" font-weight="bold" text-anchor="middle" fill="#111">1</text>
<text x="113" y="391.6" font-size="6.2" font-weight="bold" text-anchor="middle" fill="#111">5</text>
<text x="125.3" y="391.6" font-size="6.2" font-weight="bold" text-anchor="middle" fill="#111">10</text>
<text x="154.7" y="391.6" font-size="6.2" font-weight="bold" text-anchor="middle" fill="#111">50</text>
<text x="167.8" y="391.6" font-size="6.2" font-weight="bold" text-anchor="middle" fill="#111">100</text>
<circle cx="50.1" cy="236.3" r="3.5" fill="#111"/>
<text x="57" y="239.5" font-size="9.3" font-weight="bold" fill="#111" textLength="43.3" lengthAdjust="spacingAndGlyphs">AIR(21°C)</text>
<text x="57.1" y="403.4" font-size="7.8" font-weight="bold" fill="#111" textLength="98.5" lengthAdjust="spacingAndGlyphs">FLOW RATE(1/MIN/CM<tspan font-size="5" dy="-3">2</tspan><tspan dy="3">)</tspan></text>
<text x="100.6" y="239.5" font-size="9.2" font-weight="bold" fill="#111" textLength="36.8" lengthAdjust="spacingAndGlyphs">空气介质</text>
<text x="42.4" y="403.4" font-size="7.2" font-weight="bold" fill="#111" textLength="14.5" lengthAdjust="spacingAndGlyphs">流量</text>
<g transform="translate(21 386.5) rotate(-90)"><text x="0" y="0" font-size="7.4" font-weight="bold" fill="#111" textLength="14.9" lengthAdjust="spacingAndGlyphs">压降</text><text x="15" y="0" font-size="6.9" font-weight="bold" fill="#111" textLength="114.5" lengthAdjust="spacingAndGlyphs">PRESSURE DROP ( kgf/cm<tspan font-size="4.6" dy="-3">2</tspan><tspan dy="3"> )</tspan></text></g>
<path d="M239.7 246.6V381.8M252.1 246.6V381.8M260.9 246.6V381.8M267.7 246.6V381.8M288.8 246.6V381.8M309.9 246.6V381.8M322.3 246.6V381.8M331.1 246.6V381.8M337.9 246.6V381.8M359 246.6V381.8M380.1 246.6V381.8M218.6 357.9H381.6M218.6 343.9H381.6M218.6 333.9H381.6M218.6 326.2H381.6M218.6 302.3H381.6M218.6 278.4H381.6M218.6 264.4H381.6M218.6 254.4H381.6" stroke="#b4aee4" stroke-width="0.9" fill="none"/>
<clipPath id="cp2"><rect x="218.6" y="246.6" width="163" height="135.2"/></clipPath>
<path d="M222.2 381.8L332.5 246.6M231.3 381.8L334.9 246.6M237.9 381.8L337.3 246.6M253.6 381.8L345.1 246.6M265.6 381.8L354.2 246.6M277.7 381.8L360.2 246.6M290 381.8L368 246.6M300.7 381.8L375.2 246.6M310.9 381.8L381.6 252M316.9 381.8L381.6 259" stroke="#333" stroke-width="0.78" fill="none" clip-path="url(#cp2)"/>
<rect x="218.6" y="246.6" width="163" height="135.2" fill="none" stroke="#444" stroke-width="1"/>
<text class="sa" transform="translate(254.6 257.7) scale(1.17 1)" font-size="5.7" fill="#444" letter-spacing="0.25">0.3<tspan font-size="4.6" dx="0.7">μ</tspan></text>
<text class="sa" transform="translate(252 267.2) scale(1.17 1)" font-size="5.7" fill="#444" letter-spacing="0.25">0.5<tspan font-size="4.6" dx="0.7">μ</tspan></text>
<text class="sa" transform="translate(253.5 276.4) scale(1.17 1)" font-size="5.7" fill="#444" letter-spacing="0.25">2<tspan font-size="4.6" dx="0.7">μ</tspan></text>
<text class="sa" transform="translate(253.5 287) scale(1.17 1)" font-size="5.7" fill="#444" letter-spacing="0.25">5<tspan font-size="4.6" dx="0.7">μ</tspan></text>
<text class="sa" transform="translate(254 298.9) scale(1.17 1)" font-size="5.7" fill="#444" letter-spacing="0.25">10<tspan font-size="4.6" dx="0.7">μ</tspan></text>
<text class="sa" transform="translate(376.8 337.6) scale(1.17 1)" font-size="5.7" fill="#444" text-anchor="end" letter-spacing="0.25">20<tspan font-size="4.6" dx="0.7">μ</tspan></text>
<text class="sa" transform="translate(376.8 348.9) scale(1.17 1)" font-size="5.7" fill="#444" text-anchor="end" letter-spacing="0.25">40<tspan font-size="4.6" dx="0.7">μ</tspan></text>
<text class="sa" transform="translate(374.8 357.6) scale(1.17 1)" font-size="5.7" fill="#444" text-anchor="end" letter-spacing="0.25">75-100<tspan font-size="4.6" dx="0.7">μ</tspan></text>
<text class="sa" transform="translate(358 367.4) scale(1.17 1)" font-size="5.7" fill="#444" text-anchor="end" letter-spacing="0.25">150<tspan font-size="4.6" dx="0.7">μ</tspan></text>
<text class="sa" transform="translate(358 376.8) scale(1.17 1)" font-size="5.7" fill="#444" text-anchor="end" letter-spacing="0.25">200<tspan font-size="4.6" dx="0.7">μ</tspan></text>
<path d="M253.6 259.1H269.3L300 286.6M250.9 268.6H267.2L297.8 294.7M250.9 277.8H267.2L294.3 304.3M250.9 288.4H267L296.7 318M250.9 300.3H266L298.4 331.7M377 339H356.5L323.3 310.2M377 350.3H358.8L324.3 323.4M375 359H332.7L321.3 347M358.2 368.8H339L325.6 356.3M358.2 378.2H339L325.6 367.4" stroke="#333" stroke-width="0.8" fill="none"/>
<path d="M300 286.6L296.9 285.6L298.6 283.6ZM297.8 294.7L294.7 293.7L296.4 291.8ZM294.3 304.3L291.2 303.1L293.1 301.3ZM296.7 318L293.7 316.8L295.5 315ZM298.4 331.7L295.3 330.5L297.2 328.7ZM323.3 310.2L326.4 311.2L324.7 313.1ZM324.3 323.4L327.5 324.2L325.9 326.3ZM321.3 347L324.3 348.3L322.4 350.1ZM325.6 356.3L328.7 357.4L326.9 359.3ZM325.6 367.4L328.8 368.3L327.1 370.3Z" fill="#111"/>
<text x="216.4" y="305.5" font-size="6.2" font-weight="bold" text-anchor="end" fill="#111">1</text>
<text x="216.4" y="329.4" font-size="6.2" font-weight="bold" text-anchor="end" fill="#111">0.5</text>
<text x="216.4" y="383.4" font-size="6.2" font-weight="bold" text-anchor="end" fill="#111">0.1</text>
<text x="218.7" y="390.7" font-size="6.2" font-weight="bold" text-anchor="middle" fill="#111">0.1</text>
<text x="267.4" y="390.7" font-size="6.2" font-weight="bold" text-anchor="middle" fill="#111">0.5</text>
<text x="289.3" y="390.7" font-size="6.2" font-weight="bold" text-anchor="middle" fill="#111">1</text>
<text x="338.4" y="390.7" font-size="6.2" font-weight="bold" text-anchor="middle" fill="#111">5</text>
<text x="360" y="390.7" font-size="6.2" font-weight="bold" text-anchor="middle" fill="#111">10</text>
<circle cx="214.7" cy="236.5" r="3.5" fill="#111"/>
<text x="222.6" y="239.7" font-size="9.3" font-weight="bold" fill="#111" textLength="66.3" lengthAdjust="spacingAndGlyphs">PURE WATER</text>
<text x="291.5" y="239.7" font-size="9.3" font-weight="bold" fill="#111" textLength="33.5" lengthAdjust="spacingAndGlyphs">( 20°C )</text>
<text x="254.7" y="401.3" font-size="7.8" font-weight="bold" fill="#111" textLength="98" lengthAdjust="spacingAndGlyphs">FLOW RATE(1/MIN/CM<tspan font-size="5" dy="-3">2</tspan><tspan dy="3">)</tspan></text>
<text x="328.2" y="239.7" font-size="9.2" font-weight="bold" fill="#111" textLength="36.9" lengthAdjust="spacingAndGlyphs">纯水介质</text>
<text x="240" y="401.3" font-size="7.2" font-weight="bold" fill="#111" textLength="14.5" lengthAdjust="spacingAndGlyphs">流量</text>
<g transform="translate(203.8 386.4) rotate(-90)"><text x="0" y="0" font-size="7.4" font-weight="bold" fill="#111" textLength="14.9" lengthAdjust="spacingAndGlyphs">压降</text><text x="15" y="0" font-size="6.9" font-weight="bold" fill="#111" textLength="113.8" lengthAdjust="spacingAndGlyphs">PRESSURE DROP ( kgf/cm<tspan font-size="4.6" dy="-3">2</tspan><tspan dy="3"> )</tspan></text></g>
<path d="M444.8 246.6V386.7M453.7 246.6V386.7M460.1 246.6V386.7M465 246.6V386.7M480.4 246.6V386.7M495.8 246.6V386.7M504.7 246.6V386.7M511.1 246.6V386.7M516 246.6V386.7M531.4 246.6V386.7M546.8 246.6V386.7M555.7 246.6V386.7M562.1 246.6V386.7M567 246.6V386.7M429.4 369.8H582.3M429.4 359.8H582.3M429.4 352.8H582.3M429.4 347.3H582.3M429.4 330.4H582.3M429.4 313.5H582.3M429.4 303.5H582.3M429.4 296.5H582.3M429.4 291H582.3M429.4 274.1H582.3M429.4 257.2H582.3M429.4 247.2H582.3" stroke="#b4aee4" stroke-width="0.9" fill="none"/>
<clipPath id="cp3"><rect x="429.4" y="246.6" width="152.9" height="140.1"/></clipPath>
<path d="M429.4 322.3L511.5 246.6M429.4 327.7L514 246.6M429.4 334.3L516.5 246.6M429.4 357.5L530.9 246.6M429.4 381L536.9 246.6M439.5 386.7L542.2 246.6M452 386.7L549.7 246.6M457 386.7L552 246.6M467.2 386.7L554.2 246.6M470.8 386.7L561 246.6" stroke="#333" stroke-width="0.78" fill="none" clip-path="url(#cp3)"/>
<rect x="429.4" y="246.6" width="152.9" height="140.1" fill="none" stroke="#444" stroke-width="1"/>
<text class="sa" transform="translate(469 252.2) scale(1.17 1)" font-size="5.7" fill="#444" letter-spacing="0.25">0.3<tspan font-size="4.6" dx="0.7">μ</tspan></text>
<text class="sa" transform="translate(460.2 260.8) scale(1.17 1)" font-size="5.7" fill="#444" letter-spacing="0.25">0.5<tspan font-size="4.6" dx="0.7">μ</tspan></text>
<text class="sa" transform="translate(439.6 260.4) scale(1.17 1)" font-size="5.7" fill="#444" letter-spacing="0.25">2<tspan font-size="4.6" dx="0.7">μ</tspan></text>
<text class="sa" transform="translate(439.3 271) scale(1.17 1)" font-size="5.7" fill="#444" letter-spacing="0.25">5<tspan font-size="4.6" dx="0.7">μ</tspan></text>
<text class="sa" transform="translate(438.4 284.6) scale(1.17 1)" font-size="5.7" fill="#444" letter-spacing="0.25">10<tspan font-size="4.6" dx="0.7">μ</tspan></text>
<text class="sa" transform="translate(569.5 338.6) scale(1.17 1)" font-size="5.7" fill="#444" text-anchor="end" letter-spacing="0.25">20<tspan font-size="4.6" dx="0.7">μ</tspan></text>
<text class="sa" transform="translate(569.5 351.2) scale(1.17 1)" font-size="5.7" fill="#444" text-anchor="end" letter-spacing="0.25">40<tspan font-size="4.6" dx="0.7">μ</tspan></text>
<text class="sa" transform="translate(569.5 363.9) scale(1.17 1)" font-size="5.7" fill="#444" text-anchor="end" letter-spacing="0.25">75-100<tspan font-size="4.6" dx="0.7">μ</tspan></text>
<text class="sa" transform="translate(542 372.4) scale(1.17 1)" font-size="5.7" fill="#444" text-anchor="end" letter-spacing="0.25">200<tspan font-size="4.6" dx="0.7">μ</tspan></text>
<text class="sa" transform="translate(542 382) scale(1.17 1)" font-size="5.7" fill="#444" text-anchor="end" letter-spacing="0.25">200<tspan font-size="4.6" dx="0.7">μ</tspan></text>
<path d="M466.5 253.6H483.6L492.2 264M458 262.2H475.2L485.4 274.2M437 261.8H452.5L478.3 286M436.6 272.4H452.5L480.6 301.8M436.6 286H450.7L482.4 314.8M569.7 340H551L506 298.4M569.7 352.6H551L507 309.3M569.7 365.3H529.3L494.4 333.3M542.2 373.8H523.3L494.4 345.8M542.2 383.4H521L493.2 353.8" stroke="#333" stroke-width="0.8" fill="none"/>
<path d="M492.2 264L489.3 262.5L491.3 260.9ZM485.4 274.2L482.5 272.8L484.4 271.1ZM478.3 286L475.2 284.9L477 283ZM480.6 301.8L477.6 300.5L479.5 298.7ZM482.4 314.8L479.3 313.7L481.1 311.8ZM506 298.4L509.1 299.5L507.3 301.4ZM507 309.3L510.1 310.5L508.2 312.3ZM494.4 333.3L497.5 334.4L495.7 336.3ZM494.4 345.8L497.5 347L495.7 348.8ZM493.2 353.8L496.2 355.1L494.3 356.9Z" fill="#111"/>
<text x="427.2" y="276" font-size="6.2" font-weight="bold" text-anchor="end" fill="#111">10</text>
<text x="427.2" y="293.2" font-size="6.2" font-weight="bold" text-anchor="end" fill="#111">5</text>
<text x="427.2" y="332.6" font-size="6.2" font-weight="bold" text-anchor="end" fill="#111">1</text>
<text x="427.2" y="350.3" font-size="6.2" font-weight="bold" text-anchor="end" fill="#111">0.5</text>
<text x="427.2" y="386.6" font-size="6.2" font-weight="bold" text-anchor="end" fill="#111">0.1</text>
<text x="428.8" y="395.8" font-size="6.2" font-weight="bold" text-anchor="middle" fill="#111">0.1</text>
<text x="465.4" y="395.8" font-size="6.2" font-weight="bold" text-anchor="middle" fill="#111">0.5</text>
<text x="480" y="395.8" font-size="6.2" font-weight="bold" text-anchor="middle" fill="#111">1</text>
<text x="515.6" y="395.8" font-size="6.2" font-weight="bold" text-anchor="middle" fill="#111">5</text>
<text x="531.6" y="395.8" font-size="6.2" font-weight="bold" text-anchor="middle" fill="#111">10</text>
<text x="566.6" y="395.8" font-size="6.2" font-weight="bold" text-anchor="middle" fill="#111">50</text>
<text x="581.8" y="395.8" font-size="6.2" font-weight="bold" text-anchor="middle" fill="#111">100</text>
<circle cx="411.7" cy="236.5" r="3.5" fill="#111"/>
<text x="418.7" y="239.7" font-size="9.3" font-weight="bold" fill="#111" textLength="115.3" lengthAdjust="spacingAndGlyphs">TURBIN OIL(#VG32,40°C)</text>
<text x="459.3" y="406.4" font-size="7.8" font-weight="bold" fill="#111" textLength="98.2" lengthAdjust="spacingAndGlyphs">FLOW RATE(1/MIN/CM<tspan font-size="5" dy="-3">2</tspan><tspan dy="3">)</tspan></text>
<text x="534.2" y="239.7" font-size="9.6" font-weight="bold" fill="#111" textLength="48.3" lengthAdjust="spacingAndGlyphs">涡轮油介质</text>
<text x="444.6" y="406.4" font-size="7.2" font-weight="bold" fill="#111" textLength="14.5" lengthAdjust="spacingAndGlyphs">流量</text>
<g transform="translate(411.8 386.8) rotate(-90)"><text x="0" y="0" font-size="7.4" font-weight="bold" fill="#111" textLength="14.9" lengthAdjust="spacingAndGlyphs">压降</text><text x="15" y="0" font-size="6.9" font-weight="bold" fill="#111" textLength="114.2" lengthAdjust="spacingAndGlyphs">PRESSURE DROP ( kgf/cm<tspan font-size="4.6" dy="-3">2</tspan><tspan dy="3"> )</tspan></text></g>
</svg>
</body></html>
